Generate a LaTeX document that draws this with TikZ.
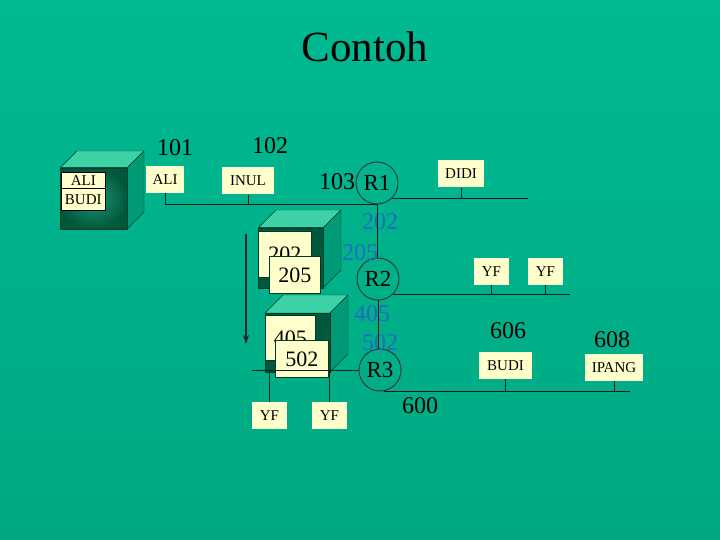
\documentclass[tikz,border=0pt]{standalone}
\usepackage{fontspec}
\setmainfont{Liberation Serif}
\usetikzlibrary{calc, arrows.meta}

\definecolor{slide}{RGB}{0,186,146}
\definecolor{slidedark}{RGB}{0,168,129}
\definecolor{tagfill}{RGB}{255,255,204}
\definecolor{portblue}{RGB}{30,110,190}
\definecolor{cubetop}{RGB}{60,210,165}
\definecolor{cubeside}{RGB}{0,155,118}
\definecolor{cubefront}{RGB}{0,88,60}
\definecolor{cubeinner}{RGB}{30,150,115}
\definecolor{cubeedge}{RGB}{0,60,40}

\tikzset{
  tag/.style={fill=tagfill, inner xsep=7pt, inner ysep=0pt, minimum height=27pt,
    font=\fontsize{15}{15}\selectfont},
  num/.style={font=\fontsize{24}{24}\selectfont},
  port/.style={num, text=portblue},
  router/.style={circle, draw=black!80, line width=0.9pt, minimum size=42pt,
    inner sep=0pt, font=\fontsize{23}{23}\selectfont},
  drawer/.style={fill=tagfill, draw=cubeedge, line width=0.6pt, inner sep=0pt,
    anchor=north west, font=\fontsize{22}{22}\selectfont},
  wire/.style={line width=1pt, draw=black!90},
}

% crate: x, y (front top left), width, height, depth
\newcommand{\crate}[5]{%
  \filldraw[fill=cubetop, draw=cubeedge] (#1,#2) -- ++(#5,-#5) -- ++(#3,0) -- ++(-#5,#5) -- cycle;
  \filldraw[fill=cubeside, draw=cubeedge] (#1+#3,#2) -- ++(#5,-#5) -- ++(0,#4) -- ++(-#5,#5) -- cycle;
  \shade[inner color=cubeinner, outer color=cubefront] (#1,#2) rectangle ++(#3,#4);
  \draw[cubeedge] (#1,#2) rectangle ++(#3,#4);
}

\begin{document}
\begin{tikzpicture}[x=1pt, y=-1pt]
  \shade[top color=slide, bottom color=slidedark] (0,0) rectangle (720,540);
  \useasboundingbox (0,0) rectangle (720,540);

  \node[font=\fontsize{43}{43}\selectfont] (title) at (365,47) {Contoh};

  % server crate with its two tags
  \crate{60}{168}{67}{61}{17}
  \node[tag, draw=black, line width=0.6pt, inner xsep=0pt, minimum width=44pt,
    minimum height=16pt, anchor=north west] (aliin) at (61,172) {ALI};
  \node[tag, draw=black, line width=0.6pt, inner xsep=0pt, minimum width=44pt,
    minimum height=22pt, anchor=north west] (budiin) at (61,188) {BUDI};

  % crates that carry the router ports
  \crate{258}{228}{65}{60}{18}
  \fill[cubefront] (311,231) rectangle (320,257);
  \node[drawer, minimum width=53pt, minimum height=46pt] (dra) at (258,231) {202};
  \node[drawer, minimum width=51pt, minimum height=37pt] (drb) at (269,256) {205};

  \crate{265}{313}{65}{59}{18}
  \fill[cubefront] (315,315) rectangle (325,340);
  \node[drawer, minimum width=50pt, minimum height=45pt] (drc) at (265,315) {405};
  \node[drawer, minimum width=53pt, minimum height=37pt] (drd) at (275,340) {502};

  % routers
  \node[router] (r1) at (377,183) {R1};
  \node[router] (r2) at (378,279) {R2};
  \node[router] (r3) at (380,370) {R3};

  % hosts
  \node[tag] (ali) at (165,179.5) {ALI};
  \node[tag, inner xsep=8pt] (inul) at (248,181) {INUL};
  \node[tag] (didi) at (461,174) {DIDI};
  \node[tag, inner xsep=8pt] (yfa) at (491.5,271.5) {YF};
  \node[tag, inner xsep=8pt] (yfb) at (545.5,271.5) {YF};
  \node[tag, inner xsep=8pt] (budi) at (505.5,365.5) {BUDI};
  \node[tag] (ipang) at (614,367.5) {IPANG};
  \node[tag, inner xsep=8pt] (yfc) at (269.5,415.5) {YF};
  \node[tag, inner xsep=8pt] (yfd) at (329.5,415.5) {YF};

  % network numbers
  \node[num] (n101) at (175,148) {101};
  \node[num] (n102) at (270,146) {102};
  \node[num] (n103) at (337,182) {103};
  \node[num] (n606) at (508,331) {606};
  \node[num] (n608) at (612,340) {608};
  \node[num] (n600) at (420,406) {600};
  \node[port] (p202) at (380,222) {202};
  \node[port] (p205) at (360,253) {205};
  \node[port] (p405) at (372,314) {405};
  \node[port] (p502) at (380,343) {502};

  % links
  \coordinate (lanA) at (528,198);
  \coordinate (lanB) at (570,294);
  \coordinate (lanC) at (252,370);
  \coordinate (lanD) at (630,390);
  \draw[wire] (ali.south) |- (r1.south);
  \draw[wire] (inul.south) -- (inul.south |- r1.south);
  \draw[wire] (r1.-45) -- (r1.-45 -| lanA);
  \draw[wire] (didi.south) -- (didi.south |- r1.-45);
  \draw[wire] (r1.south) -- (r1.south |- r2.north);
  \draw[wire] (r2.-45) -- (r2.-45 -| lanB);
  \draw[wire] (yfa.south) -- (yfa.south |- r2.-45);
  \draw[wire] (yfb.south) -- (yfb.south |- r2.-45);
  \draw[wire] (r2.south) -- (r2.south |- r3.north);
  \draw[wire] (r3.west) -- (lanC);
  \draw[wire] (yfc.north) -- (yfc.north |- r3.west);
  \draw[wire] (yfd.north) -- (yfd.north |- r3.west);
  \draw[wire] (r3.-80) -- (r3.-80 -| lanD);
  \draw[wire] (budi.south) -- (budi.south |- r3.-80);
  \draw[wire] (ipang.south) -- (ipang.south |- r3.-80);

  % direction arrow
  \coordinate (arrtop) at (246,234);
  \coordinate (arrbot) at (246,344);
  \draw[-{Stealth[length=9pt, width=6pt]}, line width=1.6pt, black!85] (arrtop) -- (arrbot);
\end{tikzpicture}
\end{document}
